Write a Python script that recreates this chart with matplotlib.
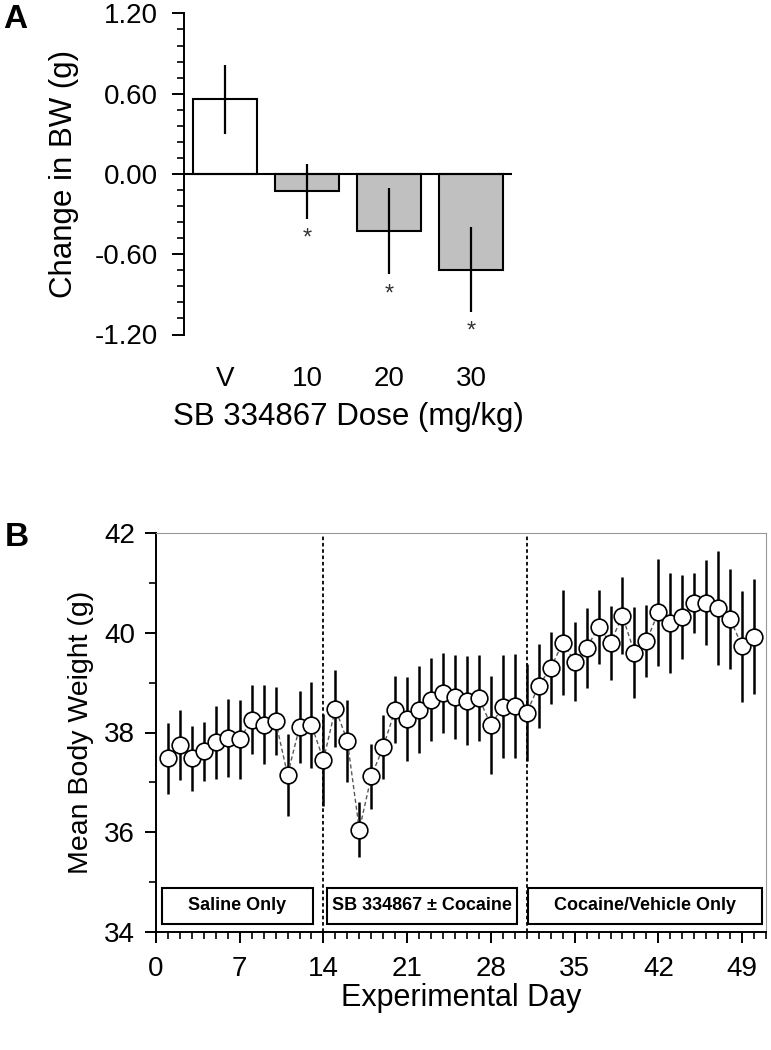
import matplotlib
matplotlib.use("Agg")
import matplotlib.pyplot as plt
from matplotlib.patches import Rectangle
from matplotlib.ticker import MultipleLocator

plt.rcParams['font.family'] = ['Liberation Sans', 'DejaVu Sans']

# ----- panel A: change in body weight by dose -----
dose_labels = ["V", "10", "20", "30"]
bw_change = [0.557, -0.13, -0.426, -0.715]
bw_err = [0.255, 0.207, 0.32, 0.315]
bar_colors = ["white", "#c0c0c0", "#c0c0c0", "#c0c0c0"]
star_y = [None, -0.48, -0.90, -1.18]

# ----- panel B: mean body weight per day -----
days = list(range(1, 51))
weight = [37.48, 37.75, 37.48, 37.62, 37.80, 37.89, 37.86, 38.26, 38.16, 38.23,
          37.15, 38.11, 38.15, 37.45, 38.48, 37.83, 36.05, 37.12, 37.71, 38.46,
          38.27, 38.46, 38.66, 38.80, 38.71, 38.64, 38.69, 38.15, 38.52, 38.53,
          38.40, 38.94, 39.29, 39.80, 39.42, 39.69, 40.12, 39.80, 40.34, 39.60,
          39.83, 40.41, 40.20, 40.32, 40.60, 40.60, 40.49, 40.28, 39.73, 39.92]
weight_err = [0.72, 0.70, 0.66, 0.60, 0.73, 0.79, 0.80, 0.70, 0.80, 0.69,
              0.82, 0.73, 0.87, 0.92, 0.78, 0.83, 0.55, 0.65, 0.65, 0.67,
              0.85, 0.88, 0.83, 0.80, 0.84, 0.89, 0.86, 0.98, 1.04, 1.05,
              0.97, 0.84, 0.72, 1.05, 0.79, 0.80, 0.74, 0.74, 0.77, 0.91,
              0.72, 1.07, 1.00, 0.84, 0.60, 0.85, 1.14, 1.00, 1.11, 1.15]
phase_breaks = [14, 31]
phase_names = ["Saline Only", "SB 334867 \u00b1 Cocaine", "Cocaine/Vehicle Only"]
phase_start = [0.5, 14.3, 31.1]
phase_end = [13.1, 30.2, 50.7]

fig = plt.figure(figsize=(7.71, 10.5), dpi=100)

# ---------- A ----------
axA = fig.add_axes([184 / 771, 1 - 334.5 / 1050, (512 - 184) / 771, (334.5 - 13.4) / 1050])
xpos = list(range(len(dose_labels)))
axA.bar(xpos, bw_change, width=0.78, color=bar_colors, edgecolor="black", linewidth=1.5, zorder=2)
axA.errorbar(xpos, bw_change, yerr=bw_err, fmt="none", ecolor="black", elinewidth=1.6, capsize=0, zorder=3)
axA.axhline(0, color="black", lw=1.5, zorder=4)
for x, y in zip(xpos, star_y):
    if y is not None:
        axA.text(x, y, "*", ha="center", va="center", fontsize=17, color="#333333")
axA.set_xlim(-0.5, 3.5)
axA.set_ylim(-1.2, 1.2)
axA.set_yticks([-1.2, -0.6, 0, 0.6, 1.2])
axA.set_yticklabels(["-1.20", "-0.60", "0.00", "0.60", "1.20"])
axA.yaxis.set_minor_locator(MultipleLocator(0.12))
axA.set_xticks(xpos)
axA.set_xticklabels(dose_labels)
for s in ["top", "right", "bottom"]:
    axA.spines[s].set_visible(False)
axA.spines["left"].set_linewidth(1.4)
axA.tick_params(axis="y", which="major", length=9, width=1.4, labelsize=20, pad=10)
axA.tick_params(axis="y", which="minor", length=5, width=1.2)
axA.tick_params(axis="x", length=0, labelsize=20, pad=23)
axA.set_ylabel("Change in BW (g)", fontsize=22.5, labelpad=11)
axA.set_xlabel("SB 334867 Dose (mg/kg)", fontsize=22.5, labelpad=7)

# ---------- B ----------
axB = fig.add_axes([156 / 771, 1 - 932 / 1050, (766 - 156) / 771, (932 - 533) / 1050])
for xb in phase_breaks:
    axB.axvline(xb, color="black", lw=1.3, linestyle=(0, (2, 1.5)), zorder=1)
axB.errorbar(days, weight, yerr=weight_err, fmt="none", ecolor="black", elinewidth=1.8, capsize=0, zorder=2)
axB.plot(days, weight, color="0.35", lw=1.0, linestyle=(0, (3, 2)), zorder=3)
axB.plot(days, weight, linestyle="none", marker="o", markersize=12, markerfacecolor="white",
         markeredgecolor="black", markeredgewidth=1.2, zorder=4)
for x0, x1, name in zip(phase_start, phase_end, phase_names):
    axB.add_patch(Rectangle((x0, 34.17), x1 - x0, 0.72, facecolor="white", edgecolor="black", lw=1.5, zorder=5))
    axB.text((x0 + x1) / 2, 34.53, name, ha="center", va="center", fontsize=13, fontweight="bold", zorder=6)
axB.set_xlim(0, 51)
axB.set_ylim(34, 42)
axB.set_xticks(range(0, 50, 7))
axB.xaxis.set_minor_locator(MultipleLocator(1))
axB.set_yticks(range(34, 43, 2))
axB.yaxis.set_minor_locator(MultipleLocator(1))
axB.spines["left"].set_linewidth(1.4)
axB.spines["bottom"].set_linewidth(1.4)
axB.spines["top"].set_color("0.6")
axB.spines["right"].set_color("0.6")
axB.tick_params(axis="both", which="major", length=8, width=1.4, labelsize=20)
axB.tick_params(axis="y", which="major", pad=7)
axB.tick_params(axis="x", which="major", pad=9)
axB.tick_params(axis="both", which="minor", length=5, width=1.2)
axB.set_ylabel("Mean Body Weight (g)", fontsize=20.5, labelpad=7)
axB.set_xlabel("Experimental Day", fontsize=22, labelpad=1)

fig.text(3 / 771, 1 - 4 / 1050, "A", fontsize=24, fontweight="bold", ha="left", va="top")
fig.text(5 / 771, 1 - 522 / 1050, "B", fontsize=24, fontweight="bold", ha="left", va="top")

fig.savefig("out.png", dpi=100)
